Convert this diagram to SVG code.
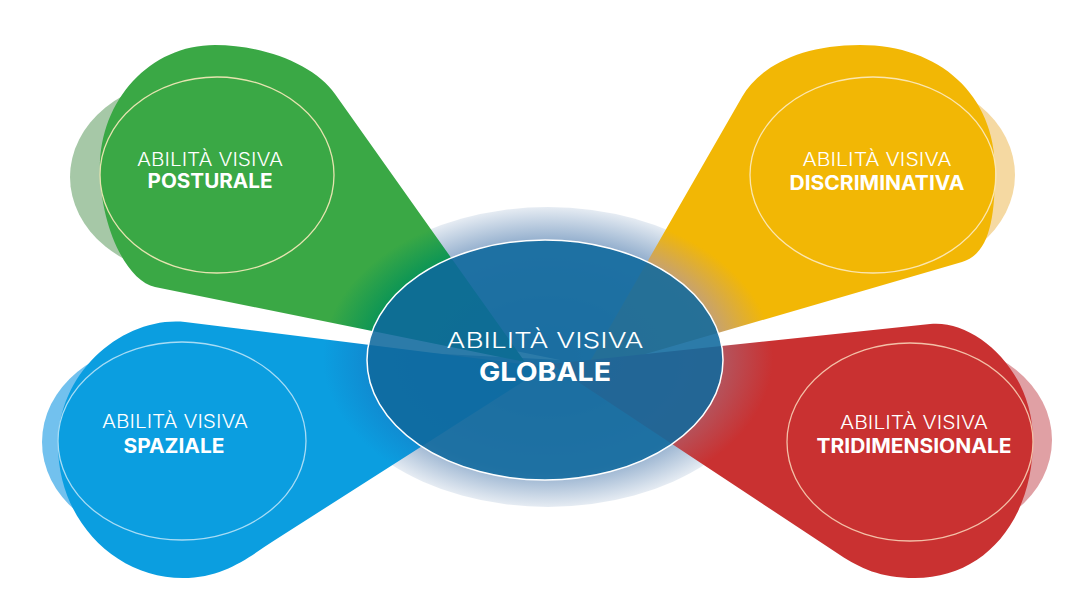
<svg xmlns="http://www.w3.org/2000/svg" width="1071" height="615" viewBox="0 0 1071 615">
  <style>
    .t1 { font-family: Inter, "Open Sans", "Liberation Sans", sans-serif; font-weight: 300; fill: #ffffff; text-anchor: middle; }
    .t2 { font-family: Inter, "Open Sans", "Liberation Sans", sans-serif; font-weight: 700; fill: #ffffff; text-anchor: middle; }
    .ring { fill: none; stroke-width: 1.3; }
  </style>
  <defs>
    <radialGradient id="halo" gradientUnits="userSpaceOnUse" cx="548" cy="357" r="225" gradientTransform="translate(548 357) scale(1 0.667) translate(-548 -357)">
      <stop offset="0" stop-color="#6f93bd"/>
      <stop offset="0.76" stop-color="#8eabcb"/>
      <stop offset="1" stop-color="#e6ecf3"/>
    </radialGradient>
    <radialGradient id="gGreen" gradientUnits="userSpaceOnUse" cx="548" cy="357" r="225" gradientTransform="translate(548 357) scale(1 0.667) translate(-548 -357)">
      <stop offset="0" stop-color="#08885a"/>
      <stop offset="0.78" stop-color="#0a9456"/>
      <stop offset="1" stop-color="#3aa845"/>
    </radialGradient>
    <radialGradient id="gYellow" gradientUnits="userSpaceOnUse" cx="548" cy="357" r="225" gradientTransform="translate(548 357) scale(1 0.667) translate(-548 -357)">
      <stop offset="0" stop-color="#b89a70"/>
      <stop offset="0.78" stop-color="#c9a36a"/>
      <stop offset="1" stop-color="#f2b705"/>
    </radialGradient>
    <radialGradient id="gBlue" gradientUnits="userSpaceOnUse" cx="548" cy="357" r="225" gradientTransform="translate(548 357) scale(1 0.667) translate(-548 -357)">
      <stop offset="0" stop-color="#1580c2"/>
      <stop offset="0.78" stop-color="#1189cf"/>
      <stop offset="1" stop-color="#0b9ee0"/>
    </radialGradient>
    <radialGradient id="gRed" gradientUnits="userSpaceOnUse" cx="548" cy="357" r="225" gradientTransform="translate(548 357) scale(1 0.667) translate(-548 -357)">
      <stop offset="0" stop-color="#9e5a70"/>
      <stop offset="0.78" stop-color="#b5535c"/>
      <stop offset="1" stop-color="#c93131"/>
    </radialGradient>
  </defs>
  <rect width="1071" height="615" fill="#ffffff"/>

  <g id="halo-layer">
    <ellipse cx="548" cy="357" rx="225" ry="150" fill="url(#halo)"/>
    <polygon points="290,306 560,360 290,346" fill="#ffffff"/>
    <polygon points="820,300 600,362 820,342" fill="#ffffff"/>
  </g>

  <g id="node-posturale">
    <ellipse cx="190" cy="177" rx="120" ry="98" fill="#a6c8a7"/>
    <path d="M525,362 L335,94 C315,65 265,45 215,45 C150,45 100,100 100,168 C100,225 126,281 155,287 Z" fill="url(#gGreen)"/>
    <ellipse class="ring" cx="217" cy="175" rx="117" ry="98" stroke="#e6e4b0"/>
    <text class="t1" x="210" y="166" font-size="18" textLength="146" lengthAdjust="spacingAndGlyphs">ABILITÀ VISIVA</text>
    <text class="t2" x="210" y="188" font-size="19.5" textLength="125" lengthAdjust="spacingAndGlyphs">POSTURALE</text>
  </g>

  <g id="node-discriminativa">
    <ellipse cx="895" cy="175" rx="120" ry="98" fill="#f5d9a2"/>
    <path d="M584,372 L742,97 C759,67 800,45 860,45 C940,45 995,95 995,170 C995,220 989,254 962,262 Z" fill="url(#gYellow)"/>
    <ellipse class="ring" cx="873" cy="175" rx="123" ry="98" stroke="#fbe6b0"/>
    <text class="t1" x="877" y="166" font-size="18" textLength="149" lengthAdjust="spacingAndGlyphs">ABILITÀ VISIVA</text>
    <text class="t2" x="877" y="190" font-size="19.5" textLength="175" lengthAdjust="spacingAndGlyphs">DISCRIMINATIVA</text>
  </g>

  <g id="node-spaziale">
    <ellipse cx="162" cy="442" rx="120" ry="99" fill="#72c1ee"/>
    <path d="M546,367 L185,322 C125,316 58,370 58,445 C58,520 115,578 183,578 C225,578 250,556 275,540 Z" fill="url(#gBlue)"/>
    <ellipse class="ring" cx="182" cy="441" rx="124" ry="99" stroke="#a8dcf5"/>
    <text class="t1" x="175" y="428" font-size="18" textLength="146" lengthAdjust="spacingAndGlyphs">ABILITÀ VISIVA</text>
    <text class="t2" x="174" y="453" font-size="19.5" textLength="101" lengthAdjust="spacingAndGlyphs">SPAZIALE</text>
  </g>

  <g id="node-tridimensionale">
    <ellipse cx="930" cy="440" rx="122" ry="99" fill="#e0a0a4"/>
    <path d="M551,364 L930,324 C975,319 1033,370 1033,440 C1033,520 985,578 915,578 C880,578 860,568 840,555 Z" fill="url(#gRed)"/>
    <ellipse class="ring" cx="910" cy="442" rx="123" ry="99" stroke="#f3c0a8"/>
    <text class="t1" x="914" y="429" font-size="18" textLength="148" lengthAdjust="spacingAndGlyphs">ABILITÀ VISIVA</text>
    <text class="t2" x="914" y="453" font-size="19.5" textLength="195" lengthAdjust="spacingAndGlyphs">TRIDIMENSIONALE</text>
  </g>

  <g id="node-globale">
    <ellipse cx="545" cy="360" rx="178" ry="120" fill="#0f699d" fill-opacity="0.88" stroke="#ffffff" stroke-width="1.5"/>
    <text class="t1" x="545" y="348" font-size="22" textLength="197" lengthAdjust="spacingAndGlyphs">ABILITÀ VISIVA</text>
    <text class="t2" x="545" y="381" font-size="26" textLength="132" lengthAdjust="spacingAndGlyphs">GLOBALE</text>
  </g>
</svg>
